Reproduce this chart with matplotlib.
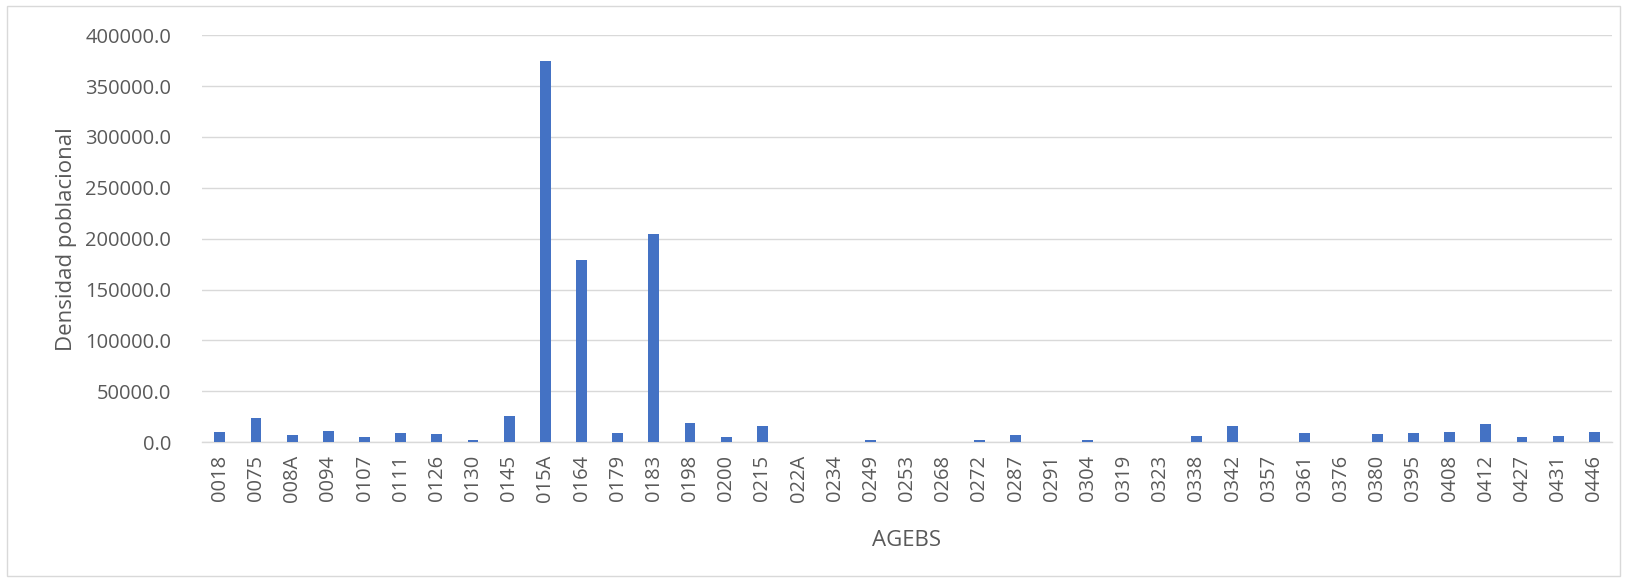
import matplotlib.pyplot as plt
from matplotlib.patches import Rectangle
from matplotlib.ticker import FuncFormatter

agebs = ['0018', '0075', '008A', '0094', '0107', '0111', '0126', '0130', '0145',
         '015A', '0164', '0179', '0183', '0198', '0200', '0215', '022A', '0234',
         '0249', '0253', '0268', '0272', '0287', '0291', '0304', '0319', '0323',
         '0338', '0342', '0357', '0361', '0376', '0380', '0395', '0408', '0412',
         '0427', '0431', '0446']
densidad = [10300, 24000, 7000, 10700, 5300, 8700, 8000, 2000, 26000,
            375000, 179500, 8700, 204500, 18700, 4700, 15700, 0, 0,
            1700, 0, 500, 2000, 7000, 500, 2000, 0, 0,
            6300, 15700, 500, 9000, 0, 7700, 8700, 10000, 17700,
            5000, 5700, 9700]
y_ticks = [0, 50000, 100000, 150000, 200000, 250000, 300000, 350000, 400000]

plt.rcParams['font.family'] = ['Open Sans', 'DejaVu Sans']
text_color = '#595959'

fig = plt.figure(figsize=(16.27, 5.79), dpi=100)
ax = fig.add_axes([0.124, 0.2366, 0.867, 0.7024])

x = range(len(agebs))
ax.bar(x, densidad, width=0.3, color='#4472C4', zorder=3)

ax.set_xlim(-0.5, len(agebs) - 0.5)
ax.set_ylim(0, 400000)
ax.set_yticks(y_ticks)
ax.yaxis.set_major_formatter(FuncFormatter(lambda v, _: f'{v:.1f}'))
ax.set_xticks(list(x))
ax.set_xticklabels(agebs, rotation=90)

ax.grid(axis='y', color='#d9d9d9', linewidth=1, zorder=0)
for side in ['top', 'right', 'left']:
    ax.spines[side].set_visible(False)
ax.spines['bottom'].set_color('#d9d9d9')
ax.spines['bottom'].set_linewidth(1)
ax.tick_params(length=0, colors=text_color, labelsize=14.5)
ax.tick_params(axis='y', pad=22)
ax.tick_params(axis='x', pad=9)

ax.set_ylabel('Densidad poblacional', fontsize=16, color=text_color, labelpad=6)
ax.set_xlabel('AGEBS', fontsize=16, color=text_color, labelpad=20)

# thin frame around the whole chart
fig.patches.append(Rectangle((0.0045, 0.006), 0.991, 0.984, transform=fig.transFigure,
                             fill=False, edgecolor='#d9d9d9', linewidth=1))

fig.savefig('out.png', dpi=100)
